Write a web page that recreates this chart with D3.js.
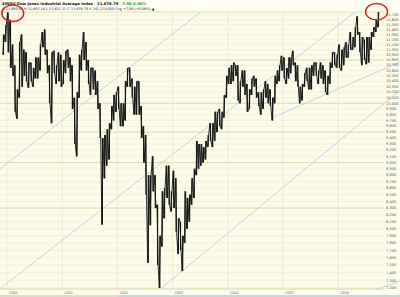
<!DOCTYPE html>
<html>
<head>
<meta charset="utf-8">
<style>
  body { margin: 0; background: #fff; }
  svg { display: block; }
</style>
</head>
<body>
<script src="https://d3js.org/d3.v7.min.js"></script>
<script>
// Dow Jones Industrial Average, half-month high / low, Dec 1999 - Sep 2006
var firstMonth = new Date(1999, 11, 1);
var lastMonth = new Date(2006, 9, 1);

var highs = [
  // 1999 Dec
  11300, 11500,
  // 2000
  11750, 11600, 11100, 10700, 10250, 11150, 11300, 11000, 10950, 10750, 10750, 10650,
  10850, 10850, 11100, 11350, 11400, 11000, 10700, 10950, 10980, 10700, 10950, 10900,
  // 2001
  10800, 10980, 11000, 10850, 10700, 10100, 10200, 10900, 11000, 11350, 11150, 10800,
  10650, 10650, 10600, 10400, 10000, 9400, 9450, 9550, 9650, 9950, 10150, 10200,
  // 2002
  10300, 10000, 10000, 10400, 10650, 10650, 10450, 10300, 10400, 10400, 9950, 9600,
  9450, 8800, 8800, 9100, 8800, 8350, 7900, 8550, 8600, 8950, 8950, 8550,
  // 2003
  8870, 8750, 8150, 8100, 7900, 8550, 8450, 8500, 8750, 8900, 9350, 9300,
  9300, 9250, 9350, 9450, 9650, 9650, 9850, 9850, 9900, 9850, 10150, 10500,
  // 2004
  10650, 10700, 10750, 10700, 10700, 10400, 10600, 10600, 10350, 10250, 10450, 10500,
  10450, 10200, 10200, 10250, 10400, 10350, 10250, 10100, 10500, 10600, 10700, 10880,
  // 2005
  10850, 10650, 10850, 10850, 10980, 10750, 10700, 10300, 10350, 10550, 10650, 10650,
  10700, 10750, 10750, 10600, 10750, 10700, 10600, 10500, 10750, 10950, 10950, 10900,
  // 2006
  11100, 11000, 11050, 11150, 11100, 11350, 11250, 11450, 11670, 11350, 11250, 11200,
  11250, 11250, 11350, 11450, 11600, 11760
];

var lows = [
  // 1999 Dec
  10900, 11150,
  // 2000
  10950, 10650, 10500, 9850, 9730, 10100, 10300, 10500, 10400, 10280, 10400, 10300,
  10450, 10450, 10600, 11050, 10900, 10550, 10000, 9650, 10550, 10350, 10400, 10300,
  // 2001
  10350, 10550, 10650, 10400, 9900, 9300, 9100, 10100, 10600, 10800, 10600, 10350,
  10150, 10250, 10150, 9900, 9400, 8060, 8750, 8950, 9050, 9550, 9700, 9850,
  // 2002
  9900, 9600, 9600, 9700, 10300, 10300, 10100, 9800, 9800, 9800, 9400, 9000,
  8500, 7530, 8050, 8550, 8300, 7500, 7200, 7750, 8150, 8450, 8350, 8250,
  // 2003
  8300, 7950, 7650, 7700, 7420, 7800, 8000, 8100, 8350, 8450, 8800, 8900,
  8950, 9000, 9050, 9250, 9350, 9250, 9350, 9500, 9600, 9550, 9750, 10100,
  // 2004
  10350, 10350, 10400, 10500, 10050, 10000, 10300, 10150, 9850, 9900, 10150, 10300,
  10100, 9950, 9800, 9900, 10100, 10000, 9950, 9700, 10000, 10350, 10400, 10600,
  // 2005
  10450, 10350, 10450, 10550, 10700, 10400, 10300, 10000, 10050, 10300, 10400, 10250,
  10250, 10500, 10500, 10350, 10450, 10350, 10200, 10150, 10350, 10650, 10700, 10650,
  // 2006
  10650, 10600, 10700, 10850, 10850, 11000, 11000, 11050, 11300, 10950, 10700, 10800,
  10720, 10750, 11000, 11250, 11350, 11450
];

// right-hand price labels
var priceTicks = [
  11700, 11600, 11500, 11400, 11300, 11200, 11100, 11000, 10900, 10800,
  10700, 10600, 10500, 10400, 10300, 10200, 10100, 10000, 9900, 9800,
  9700, 9600, 9500, 9400, 9300, 9200, 9100, 9000, 8900, 8800,
  8700, 8600, 8500, 8400, 8300, 8200, 8100, 8000, 7900, 7800,
  7700, 7600, 7500, 7400, 7300, 7200
];
// stronger horizontal levels
var keyLevels = [10800, 10000, 9500, 9000, 8300];

var yearLabels = ["2000", "2001", "2002", "2003", "2004", "2005", "2006"];

// trend lines: two anchors each (date, value)
var trendLines = [
  { d0: new Date(1999, 10, 15), v0: 7190, d1: new Date(2006, 3, 22), v1: 11760, fromLeft: true },
  { d0: new Date(1999, 10, 15), v0: 8896, d1: new Date(2003, 6, 6), v1: 11763, fromLeft: true },
  { d0: new Date(2002, 8, 26), v0: 7161, d1: new Date(2006, 9, 23), v1: 9975, fromLeft: true },
  { d0: new Date(2004, 9, 25), v0: 9750, d1: new Date(2006, 9, 23), v1: 10620, fromLeft: false },
  { d0: new Date(2006, 8, 5), v0: 7180, d1: new Date(2007, 1, 15), v1: 7290, fromLeft: true }
];

// circled spots
var circled = [
  { d: new Date(2000, 1, 8), v: 11736 },
  { d: new Date(2006, 8, 12), v: 11769 }
];

var headTitle = "$INDU Dow Jones Industrial Average Index";
var headLast = "11,676.79";
var headChange = "7.06  0.06%";
var headOhlc = "O 11,650.55  H 11,697.14  L 11,631.22  C 11,676.79  V 241,224,000  Chg +7.06 (+0.06%)  \u25B2";

var width = 400;
var height = 297;
var plotRight = 384;
var plotTop = 12;
var plotBottom = 289;

var svg = d3.select('body')
  .append('svg')
  .attr('width', width)
  .attr('height', height);

// background
svg.append('rect')
  .attr('width', width)
  .attr('height', height)
  .attr('fill', '#fcfce9');

svg.append('rect')
  .attr('width', width)
  .attr('height', plotTop)
  .attr('fill', '#fdfdf2');

// scales
var x = d3.scaleTime()
  .domain([new Date(2000, 0, 1), new Date(2006, 0, 1)])
  .range([7, 338.2]);

var y = d3.scaleLog()
  .domain([11700, 7200])
  .range([15, 288]);

// half-month periods
var periods = [];
d3.timeMonth.range(firstMonth, lastMonth).forEach(function(m) {
  periods.push(m);
  periods.push(new Date(m.getFullYear(), m.getMonth(), 16));
});
var periodEnds = periods.slice(1).concat([lastMonth]);

// horizontal grid
svg.append('g')
  .selectAll('line')
  .data(priceTicks)
  .enter()
  .append('line')
  .attr('x1', 0)
  .attr('x2', plotRight)
  .attr('y1', function(d) { return y(d); })
  .attr('y2', function(d) { return y(d); })
  .attr('stroke', '#ecebd2')
  .attr('stroke-width', 0.6);

svg.append('g')
  .selectAll('line')
  .data(keyLevels)
  .enter()
  .append('line')
  .attr('x1', 0)
  .attr('x2', plotRight)
  .attr('y1', function(d) { return y(d); })
  .attr('y2', function(d) { return y(d); })
  .attr('stroke', '#d9d8ac')
  .attr('stroke-width', 0.9);

// vertical year grid
var yearDates = yearLabels.map(function(s) { return new Date(+s, 0, 1); });
svg.append('g')
  .selectAll('line')
  .data(yearDates)
  .enter()
  .append('line')
  .attr('x1', function(d) { return x(d); })
  .attr('x2', function(d) { return x(d); })
  .attr('y1', plotTop)
  .attr('y2', plotBottom)
  .attr('stroke', '#e6e5c9')
  .attr('stroke-width', 0.7);

// plot border top / bottom
svg.append('line')
  .attr('x1', 0).attr('x2', plotRight)
  .attr('y1', plotTop).attr('y2', plotTop)
  .attr('stroke', '#d9d8ac').attr('stroke-width', 0.8);
svg.append('line')
  .attr('x1', 0).attr('x2', plotRight)
  .attr('y1', plotBottom).attr('y2', plotBottom)
  .attr('stroke', '#cfcea0').attr('stroke-width', 0.8);

// trend lines, clipped to the plot height
svg.append('clipPath')
  .attr('id', 'plotclip')
  .append('rect')
  .attr('x', 0)
  .attr('y', plotTop)
  .attr('width', width)
  .attr('height', plotBottom - plotTop);

svg.append('g')
  .attr('clip-path', 'url(#plotclip)')
  .selectAll('line')
  .data(trendLines)
  .enter()
  .append('line')
  .each(function(t) {
    var x0 = x(t.d0), y0 = y(t.v0), x1 = x(t.d1), y1 = y(t.v1);
    var slope = (y1 - y0) / (x1 - x0);
    var xa = t.fromLeft ? 0 : x0;
    d3.select(this)
      .attr('x1', xa)
      .attr('y1', y0 + slope * (xa - x0))
      .attr('x2', width)
      .attr('y2', y0 + slope * (width - x0));
  })
  .attr('stroke', '#bcc6de')
  .attr('stroke-width', 0.8);

// price bars: a thin zigzag joining the ranges, then the range bars
var mid = function(d, i) { return (x(d) + x(periodEnds[i])) / 2; };
var zig = [];
periods.forEach(function(d, i) {
  var m = mid(d, i), w = (x(periodEnds[i]) - x(d)) / 2;
  var j = Math.min(i + 1, periods.length - 1);
  // rising into the next period: low first, then high
  var rising = (highs[j] + lows[j]) >= (highs[i] + lows[i]);
  if (rising) {
    zig.push([m - w * 0.5, y(lows[i])]);
    zig.push([m + w * 0.5, y(highs[i])]);
  } else {
    zig.push([m - w * 0.5, y(highs[i])]);
    zig.push([m + w * 0.5, y(lows[i])]);
  }
});
svg.append('path')
  .attr('d', d3.line()(zig))
  .attr('fill', 'none')
  .attr('stroke', '#151515')
  .attr('stroke-width', 0.9);

svg.append('g')
  .selectAll('line')
  .data(periods)
  .enter()
  .append('line')
  .attr('x1', mid)
  .attr('x2', mid)
  .attr('y1', function(d, i) { return y(highs[i]); })
  .attr('y2', function(d, i) { return y(lows[i]); })
  .attr('stroke', '#151515')
  .attr('stroke-width', 1.2);

// right axis labels
svg.append('g')
  .selectAll('text')
  .data(priceTicks)
  .enter()
  .append('text')
  .attr('x', 386)
  .attr('y', function(d) { return y(d); })
  .attr('dy', '0.35em')
  .text(d3.format(','))
  .attr('fill', '#555')
  .attr('font-family', 'DejaVu Sans')
  .style('font-size', '3.6px');

// year labels
svg.append('g')
  .selectAll('text')
  .data(yearDates)
  .enter()
  .append('text')
  .attr('x', function(d) { return x(d) + 2; })
  .attr('y', 294)
  .text(function(d, i) { return yearLabels[i]; })
  .attr('fill', '#666')
  .attr('font-family', 'DejaVu Sans')
  .style('font-size', '3.4px');

// bottom strip
svg.append('rect')
  .attr('x', 0).attr('y', 295)
  .attr('width', 118).attr('height', 2)
  .attr('fill', '#dcdcd2');
svg.append('rect')
  .attr('x', 118).attr('y', 295)
  .attr('width', width - 118).attr('height', 2)
  .attr('fill', '#c9d3e3');

// header
var head = svg.append('text')
  .attr('x', 2)
  .attr('y', 5)
  .attr('font-family', 'DejaVu Sans')
  .style('font-size', '3.8px');
head.append('tspan').text(headTitle).attr('font-weight', 'bold').attr('fill', '#111');
head.append('tspan').text(headLast).attr('dx', 4).attr('font-weight', 'bold').attr('fill', '#111');
head.append('tspan').text(headChange).attr('dx', 4).attr('font-weight', 'bold').attr('fill', '#2aa02a');

svg.append('text')
  .attr('x', 2)
  .attr('y', 9.8)
  .text(headOhlc)
  .attr('fill', '#222')
  .attr('font-family', 'DejaVu Sans')
  .style('font-size', '3.4px');

// red circles
svg.append('g')
  .selectAll('ellipse')
  .data(circled)
  .enter()
  .append('ellipse')
  .attr('cx', function(d) { return x(d.d); })
  .attr('cy', function(d) { return y(d.v); })
  .attr('rx', 11)
  .attr('ry', 8.2)
  .attr('fill', 'none')
  .attr('stroke', '#e01b1b')
  .attr('stroke-width', 1.4);
</script>
</body>
</html>
